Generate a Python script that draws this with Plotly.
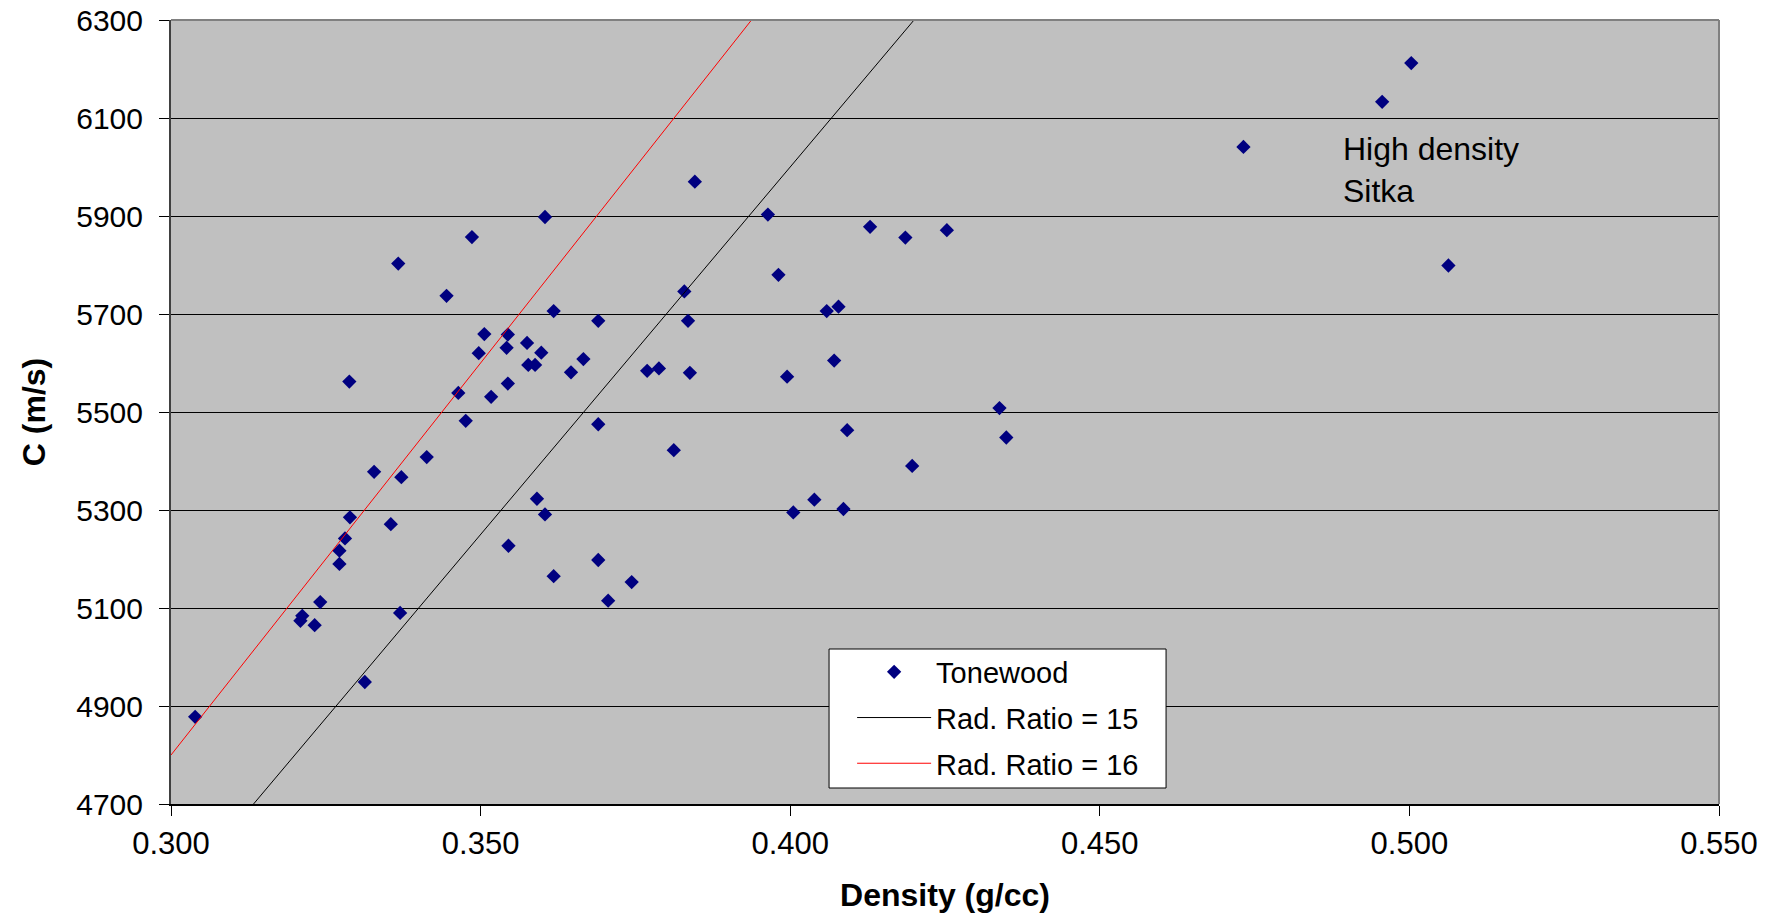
import plotly.graph_objects as go

# Tonewood samples: density (g/cc) and speed of sound C (m/s)
density = [
    0.3846, 0.3604, 0.3486, 0.3367, 0.3445, 0.3618, 0.3690, 0.3829, 0.3835, 0.3838,
    0.3506, 0.3544, 0.3575, 0.3542, 0.3497, 0.3598, 0.3577, 0.3588, 0.3666, 0.3646,
    0.3769, 0.3788, 0.3288, 0.3464, 0.3544, 0.3517,
    0.3476, 0.3690, 0.3812, 0.3328, 0.3372, 0.3413, 0.3591, 0.3604, 0.3289, 0.3355,
    0.3281, 0.3272, 0.3272, 0.3545, 0.3690, 0.3618, 0.3744, 0.3706, 0.3241, 0.3212,
    0.3209, 0.3232, 0.3370, 0.3313, 0.3039,
    0.3964, 0.4129, 0.4186, 0.4253, 0.3981, 0.4059, 0.4078, 0.4071, 0.3995, 0.4338,
    0.4349, 0.4092, 0.4197, 0.4039, 0.4005, 0.4086,
    0.5003, 0.4956, 0.4732, 0.5063,
]
speed = [
    5970, 5898, 5857, 5803, 5737, 5706, 5686, 5746, 5686, 5580,
    5659, 5658, 5641, 5631, 5620, 5621, 5596, 5596, 5608, 5581,
    5584, 5589, 5562, 5539, 5558, 5531,
    5482, 5475, 5422, 5378, 5367, 5408, 5323, 5291, 5285, 5271,
    5242, 5217, 5190, 5227, 5198, 5165, 5153, 5115, 5112, 5084,
    5074, 5065, 5090, 4949, 4878,
    5903, 5878, 5856, 5871, 5780, 5706, 5715, 5605, 5572, 5508,
    5448, 5463, 5390, 5321, 5295, 5302,
    6212, 6133, 6041, 5799,
]

# Radiation ratio reference lines (end points)
ratio15_density = [0.31333, 0.42]
ratio15_speed = [4700, 6300]
ratio16_density = [0.300, 0.39375]
ratio16_speed = [4800, 6300]

x_ticks = [0.300, 0.350, 0.400, 0.450, 0.500, 0.550]
y_ticks = [4700, 4900, 5100, 5300, 5500, 5700, 5900, 6100, 6300]

FONT = "Liberation Sans, Arial, sans-serif"

fig = go.Figure()
fig.add_trace(go.Scatter(
    x=density, y=speed, mode="markers", name="Tonewood", legendgroup="a",
    marker=dict(symbol="diamond", color="#000080", size=11, line=dict(width=0)),
))
fig.add_trace(go.Scatter(
    x=ratio15_density, y=ratio15_speed, mode="lines", name="Rad. Ratio = 15",
    legendgroup="b", line=dict(color="black", width=1),
))
fig.add_trace(go.Scatter(
    x=ratio16_density, y=ratio16_speed, mode="lines", name="Rad. Ratio = 16",
    legendgroup="c", line=dict(color="#FF0000", width=1),
))

fig.update_layout(
    width=1779, height=917,
    margin=dict(l=171, r=60, t=20, b=113, autoexpand=False),
    paper_bgcolor="white", plot_bgcolor="#C0C0C0",
    font=dict(family=FONT, size=31, color="black"),
    showlegend=True,
    legend=dict(
        x=0.440, y=0.2009, xanchor="left", yanchor="top",
        bgcolor="rgba(0,0,0,0)", borderwidth=0,
        font=dict(size=29), itemwidth=74, tracegroupgap=5,
    ),
    xaxis=dict(
        range=[0.3, 0.55], tickvals=x_ticks, tickformat=".3f",
        ticks="outside", ticklen=10, tickcolor="black", tickwidth=1,
        showgrid=False, zeroline=False, automargin=False,
        showline=True, linecolor="black", linewidth=2,
        ticklabelstandoff=1,
        title=dict(text="<b>Density (g/cc)</b>", font=dict(size=32), standoff=23),
    ),
    yaxis=dict(
        range=[4700, 6300], tickvals=y_ticks,
        ticks="outside", ticklen=10, tickcolor="black", tickwidth=1,
        showgrid=True, gridcolor="black", gridwidth=1, zeroline=False,
        automargin=False,
        showline=True, linecolor="#404040", linewidth=2,
        ticklabelstandoff=10,
        tickfont=dict(size=30),
        title=dict(text="<b>C (m/s)</b>", font=dict(size=32), standoff=21),
    ),
    shapes=[
        dict(type="line", xref="paper", yref="paper", x0=0, x1=1, y0=1, y1=1,
             line=dict(color="#808080", width=2), layer="above"),
        dict(type="line", xref="paper", yref="paper", x0=1, x1=1, y0=0, y1=1,
             line=dict(color="#808080", width=2), layer="above"),
        # legend box
        dict(type="rect", xref="paper", yref="paper",
             x0=0.4251, x1=0.6428, y0=0.0204, y1=0.1977,
             fillcolor="white", line=dict(color="black", width=1), layer="above"),
    ],
    annotations=[
        dict(x=0.489, y=5994, xref="x", yref="y", xanchor="left", yanchor="middle",
             text="High density<br>Sitka", align="left", showarrow=False,
             font=dict(size=32, color="black")),
    ],
)

fig.write_html("out.html")
